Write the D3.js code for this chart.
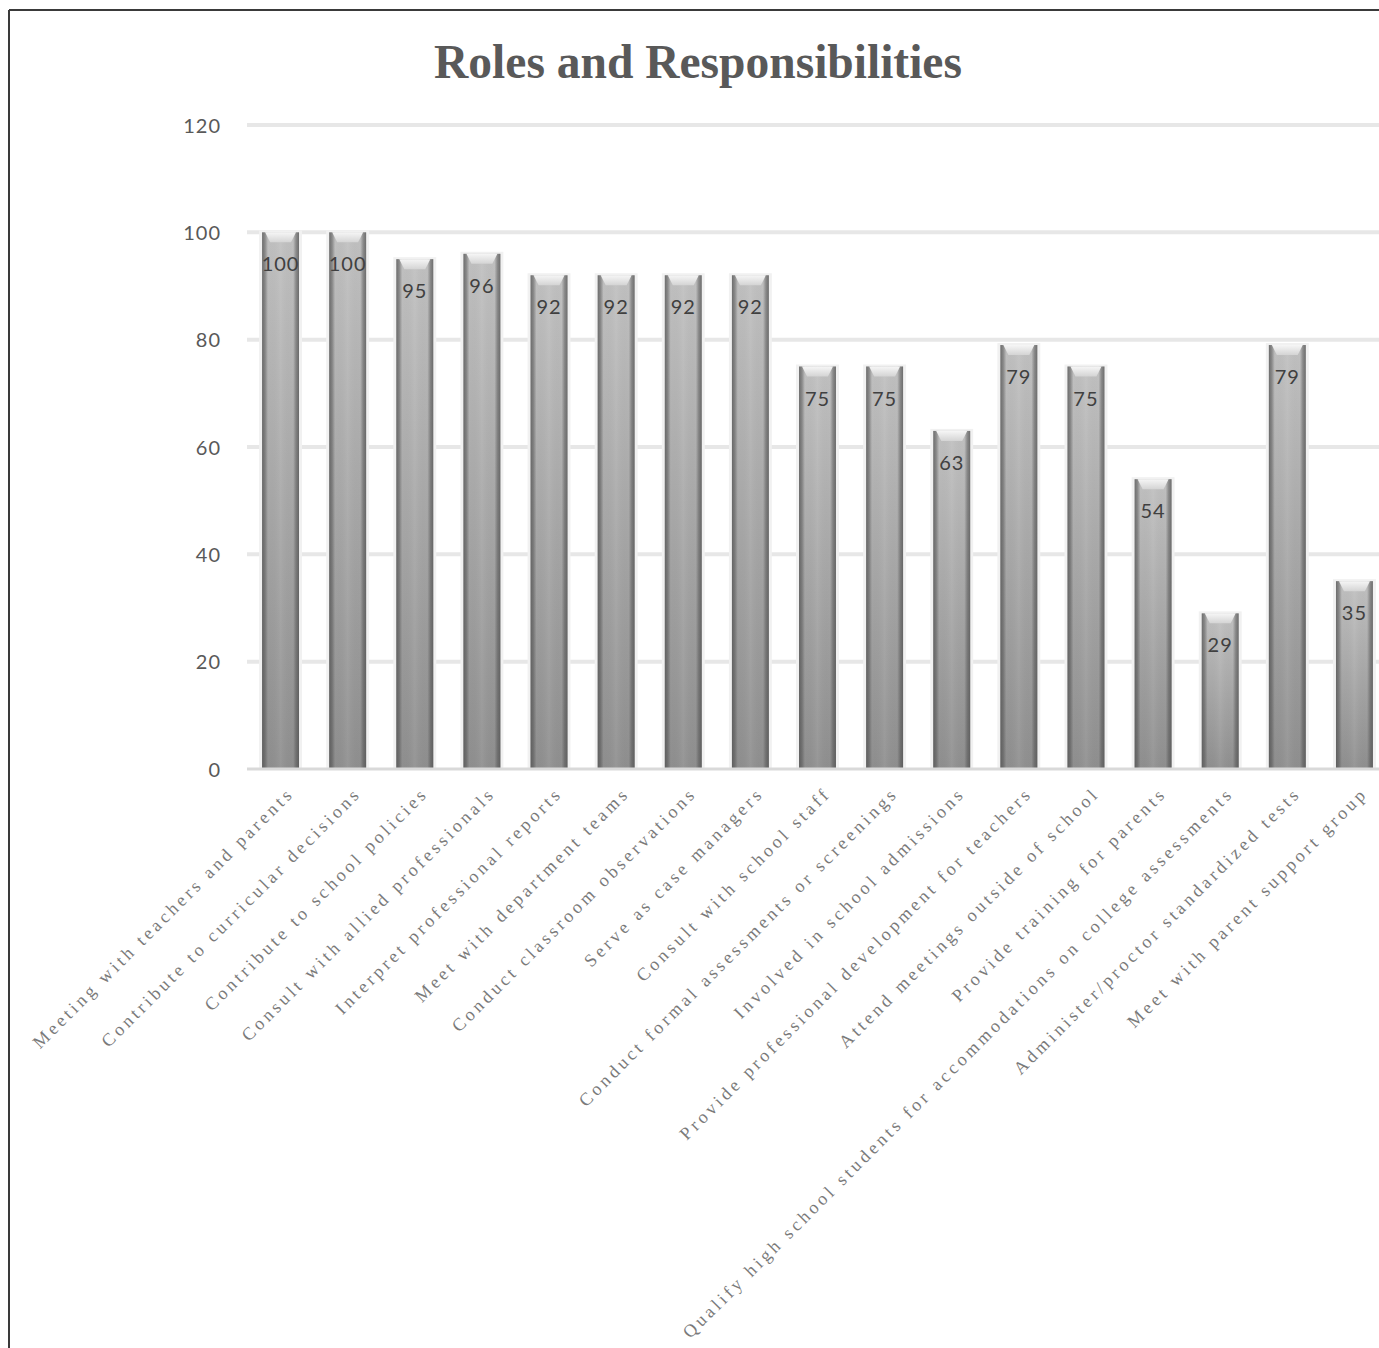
<!DOCTYPE html>
<html>
<head>
<meta charset="utf-8">
<script src="https://cdn.jsdelivr.net/npm/d3@7"></script>
<style>
  body { margin: 0; background: #fff; }
  .tick-label { font-family: Lato, "Open Sans", sans-serif; font-size: 20px; fill: #595959; letter-spacing: 1px; }
  .value-label { font-family: Lato, "Open Sans", sans-serif; font-size: 20px; fill: #404040; letter-spacing: 1px; }
  .cat-label { font-family: "Liberation Serif", serif; font-size: 18px; fill: #7a7a7a; letter-spacing: 3.45px; }
  .title { font-family: "Liberation Serif", serif; font-weight: bold; font-size: 47.5px; fill: #595959; }
</style>
</head>
<body>
<div id="chart"></div>
<script>
// Chart data
const categories = [
    'Meeting with teachers and parents',
    'Contribute to curricular decisions',
    'Contribute to school policies',
    'Consult with allied professionals',
    'Interpret professional reports',
    'Meet with department teams',
    'Conduct classroom observations',
    'Serve as case managers',
    'Consult with school staff',
    'Conduct formal assessments or screenings',
    'Involved in school admissions',
    'Provide professional development for teachers',
    'Attend meetings outside of school',
    'Provide training for parents',
    'Qualify high school students for accommodations on college assessments',
    'Administer/proctor standardized tests',
    'Meet with parent support group'
];
const values = [100, 100, 95, 96, 92, 92, 92, 92, 75, 75, 63, 79, 75, 54, 29, 79, 35];
const yTicks = [0, 20, 40, 60, 80, 100, 120];
const chartTitle = 'Roles and Responsibilities';

const W = 1379, H = 1348;
const plot = { left: 247, right: 1388, top: 125, bottom: 769 };

const svg = d3.select('#chart').append('svg')
    .attr('width', W)
    .attr('height', H);

// Gradients for the cylinder-ish bars
const defs = svg.append('defs');
const vGrad = defs.append('linearGradient')
    .attr('id', 'barV').attr('x1', 0).attr('y1', 0).attr('x2', 0).attr('y2', 1);
vGrad.append('stop').attr('offset', '0%').attr('stop-color', '#c0c0c0');
vGrad.append('stop').attr('offset', '100%').attr('stop-color', '#8e8e8e');

const hGrad = defs.append('linearGradient')
    .attr('id', 'barH').attr('x1', 0).attr('y1', 0).attr('x2', 1).attr('y2', 0);
[
    ['0%', '#4a4a4a', 0.7],
    ['8%', '#4a4a4a', 0.45],
    ['16%', '#4a4a4a', 0.0],
    ['50%', '#ffffff', 0.08],
    ['84%', '#4a4a4a', 0.0],
    ['92%', '#4a4a4a', 0.45],
    ['100%', '#4a4a4a', 0.7]
].forEach(([o, c, a]) => {
    hGrad.append('stop').attr('offset', o).attr('stop-color', c).attr('stop-opacity', a);
});

const capGrad = defs.append('linearGradient')
    .attr('id', 'cap').attr('x1', 0).attr('y1', 0).attr('x2', 0).attr('y2', 1);
capGrad.append('stop').attr('offset', '0%').attr('stop-color', '#f6f6f6');
capGrad.append('stop').attr('offset', '100%').attr('stop-color', '#d4d4d4');

// Scales
const x = d3.scaleBand()
    .domain(categories)
    .range([plot.left, plot.right])
    .paddingInner(0.45)
    .paddingOuter(0.225);

const y = d3.scaleLinear()
    .domain([0, 120])
    .range([plot.bottom, plot.top]);

// Frame lines (top and left only are visible in the reference)
svg.append('line').attr('x1', 9).attr('y1', 10).attr('x2', W).attr('y2', 10)
    .attr('stroke', '#3a3a3a').attr('stroke-width', 2);
svg.append('line').attr('x1', 9).attr('y1', 10).attr('x2', 9).attr('y2', H)
    .attr('stroke', '#3a3a3a').attr('stroke-width', 2);

// Title
svg.append('text')
    .attr('class', 'title')
    .attr('x', 698)
    .attr('y', 78)
    .attr('text-anchor', 'middle')
    .text(chartTitle);

// Gridlines
svg.append('g')
    .selectAll('line')
    .data(yTicks.filter(d => d > 0))
    .join('line')
    .attr('x1', plot.left)
    .attr('x2', W)
    .attr('y1', d => y(d))
    .attr('y2', d => y(d))
    .attr('stroke', '#e7e7e7')
    .attr('stroke-width', 4);

// Y axis labels
const yAxis = d3.axisLeft(y).tickValues(yTicks).tickSize(0).tickPadding(0);
const yG = svg.append('g')
    .attr('transform', `translate(221,0)`)
    .call(yAxis);
yG.select('.domain').remove();
yG.selectAll('text')
    .attr('class', 'tick-label')
    .attr('font-size', null)
    .attr('font-family', null)
    .attr('fill', null)
    .attr('dy', '0.35em');

// Bars
const bars = svg.append('g').selectAll('g')
    .data(values.map((v, i) => ({ cat: categories[i], value: v })))
    .join('g');

// soft glow behind each bar
bars.append('rect')
    .attr('x', d => x(d.cat) - 3)
    .attr('y', d => y(d.value) - 2)
    .attr('width', x.bandwidth() + 6)
    .attr('height', d => y(0) - y(d.value) + 2)
    .attr('fill', '#f1f1f1');

bars.append('rect')
    .attr('x', d => x(d.cat))
    .attr('y', d => y(d.value))
    .attr('width', x.bandwidth())
    .attr('height', d => y(0) - y(d.value))
    .attr('fill', 'url(#barV)');

bars.append('rect')
    .attr('x', d => x(d.cat))
    .attr('y', d => y(d.value))
    .attr('width', x.bandwidth())
    .attr('height', d => y(0) - y(d.value))
    .attr('fill', 'url(#barH)');

// bevelled top cap
bars.append('path')
    .attr('d', d => {
        const x0 = x(d.cat), x1 = x0 + x.bandwidth(), t = y(d.value);
        return `M${x0 + 3},${t} L${x1 - 3},${t} L${x1 - 8},${t + 10} L${x0 + 8},${t + 10} Z`;
    })
    .attr('fill', 'url(#cap)');

// value labels inside bar tops
bars.append('text')
    .attr('class', 'value-label')
    .attr('x', d => x(d.cat) + x.bandwidth() / 2)
    .attr('y', d => y(d.value) + 39)
    .attr('text-anchor', 'middle')
    .text(d => d.value);

// Baseline
svg.append('line')
    .attr('x1', plot.left).attr('x2', W)
    .attr('y1', y(0)).attr('y2', y(0))
    .attr('stroke', '#d9d9d9')
    .attr('stroke-width', 3);

// Category labels, rotated
svg.append('g').selectAll('text')
    .data(categories)
    .join('text')
    .attr('class', 'cat-label')
    .attr('text-anchor', 'end')
    .attr('transform', d => `translate(${x(d) + x.bandwidth() / 2 + 10},${plot.bottom + 21}) rotate(-45)`)
    .attr('dy', '0.35em')
    .text(d => d);
</script>
</body>
</html>
